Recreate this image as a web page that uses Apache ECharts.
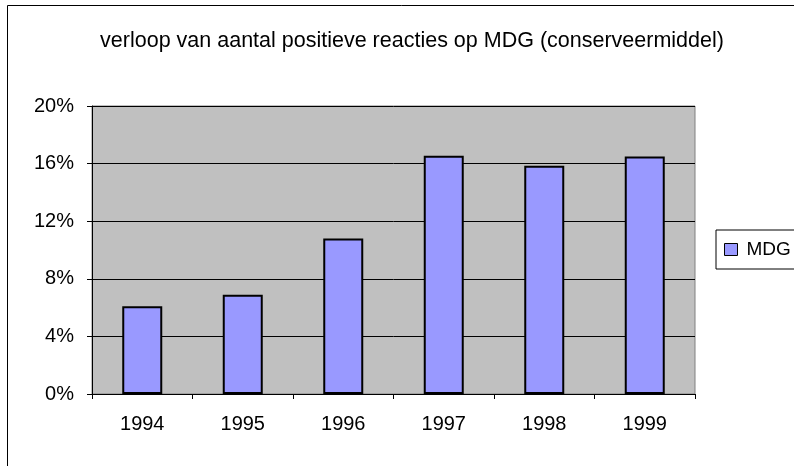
<!DOCTYPE html>
<html><head><meta charset="utf-8">
<script src="https://cdn.jsdelivr.net/npm/echarts@6/dist/echarts.min.js"></script>
<style>html,body{margin:0;padding:0;background:#fff}#c{width:794px;height:466px}</style>
</head><body><div id="c"></div>
<script>
const categories = ['1994','1995','1996','1997','1998','1999'];
const mdgValues = [6.1, 6.9, 10.8, 16.55, 15.85, 16.5];
const yTicks = [0, 4, 8, 12, 16, 20];
const seriesName = 'MDG';
const titleText = 'verloop van aantal positieve reacties op MDG (conserveermiddel)';

const chart = echarts.init(document.getElementById('c'), null, {renderer: 'canvas'});
const font = 'Liberation Sans, Arial, sans-serif';
chart.setOption({
  animation: false,
  title: {text: titleText, left: 407, top: 25, textAlign: 'center',
    textStyle: {fontFamily: font, fontSize: 21.5, fontWeight: 'normal', color: '#000'}},
  graphic: [{type: 'rect', shape: {x: 7.5, y: 5.5, width: 800, height: 480}, style: {fill: 'none', stroke: '#000', lineWidth: 1}, z: 100}],
  legend: {left: 716, top: 230, orient: 'vertical', padding: [10, 20, 10, 8],
    borderColor: '#000', borderWidth: 1, itemWidth: 13, itemHeight: 12, itemGap: 0,
    icon: 'rect', itemStyle: {borderColor: '#000', borderWidth: 1},
    textStyle: {fontFamily: font, fontSize: 19, color: '#000', padding: [0, 0, 0, 4]},
    data: [seriesName]},
  grid: {left: 92, right: 99, top: 106, bottom: 72, show: true, backgroundColor: '#c0c0c0', borderColor: '#808080', borderWidth: 1},
  xAxis: {type: 'category', data: categories, boundaryGap: true,
    axisLine: {lineStyle: {color: '#000', width: 1}},
    axisTick: {show: true, length: 5, lineStyle: {color: '#000'}, alignWithLabel: false},
    axisLabel: {fontFamily: font, fontSize: 20, color: '#000', margin: 20}},
  yAxis: {type: 'value', min: 0, max: 20, interval: 4,
    axisLine: {show: true, lineStyle: {color: '#000', width: 1}},
    axisTick: {show: true, length: 5, lineStyle: {color: '#000'}},
    splitLine: {lineStyle: {color: '#000', width: 1}},
    axisLabel: {fontFamily: font, fontSize: 20, color: '#000', margin: 18,
      formatter: v => (yTicks.includes(v) ? v + '%' : '')}},
  series: [{name: seriesName, type: 'bar', data: mdgValues, barWidth: 40,
    itemStyle: {color: '#9999ff', borderColor: '#000', borderWidth: 2}}]
});
</script></body></html>
